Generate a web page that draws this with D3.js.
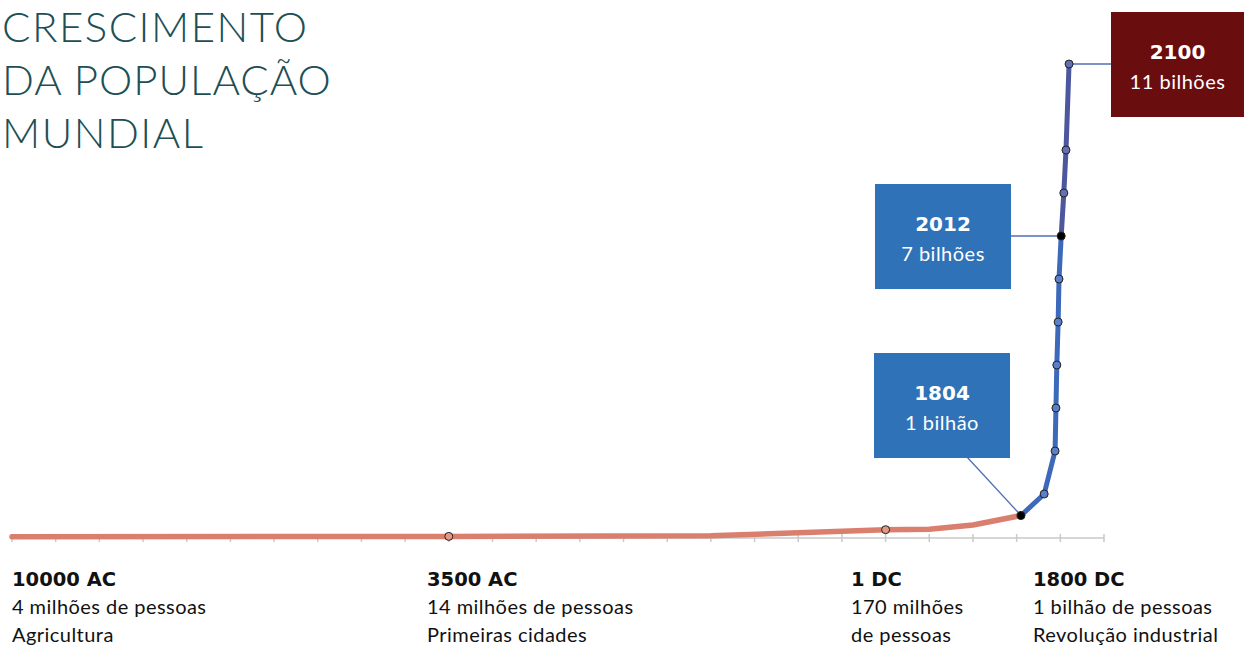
<!DOCTYPE html>
<html>
<head>
<meta charset="utf-8">
<script src="https://cdn.jsdelivr.net/npm/d3@7"></script>
<style>
  html, body { margin: 0; padding: 0; background: #fff; }
  svg { display: block; font-family: Lato, "Noto Sans", sans-serif; }
</style>
</head>
<body>
<svg id="chart"></svg>
<script>
const W = 1244;
const H = 646;

// ── Data ──────────────────────────────────────────────────────────────────────
// x = position on the category axis (tick index), y = population (bilhões)

const TICKS = d3.range(0, 26);

const ERA_X = [0, 10, 16, 20, 21, 22, 23.1];
const ERA_Y = [0.004, 0.014, 0.03, 0.17, 0.18, 0.28, 0.5];
const ERA_MARKED = [false, true, false, true, false, false, false];

const MODERN_X = [23.1, 23.63, 23.88, 23.9, 23.92, 23.95, 23.97, 24.02];
const MODERN_Y = [0.5, 1, 2, 3, 4, 5, 6, 7];

const FUTURE_X = [24.02, 24.08, 24.13, 24.2];
const FUTURE_Y = [7, 8, 9, 11];

const TITLE = ['CRESCIMENTO', 'DA POPULAÇÃO', 'MUNDIAL'];

const CALLOUT_YEAR = ['2100', '2012', '1804'];
const CALLOUT_TEXT = ['11 bilhões', '7 bilhões', '1 bilhão'];

const ERA_LABEL = ['10000 AC', '3500 AC', '1 DC', '1800 DC'];
const ERA_LINE2 = ['4 milhões de pessoas', '14 milhões de pessoas', '170 milhões', '1 bilhão de pessoas'];
const ERA_LINE3 = ['Agricultura', 'Primeiras cidades', 'de pessoas', 'Revolução industrial'];

// ── Scales ────────────────────────────────────────────────────────────────────

const x = d3.scaleLinear().domain([0, 25]).range([12, 1104]);
const y = d3.scaleLinear().domain([0, 11]).range([537, 64]);

const svg = d3.select('#chart').attr('width', W).attr('height', H);

const BOLD = '"DejaVu Sans", sans-serif';

// ── Title ─────────────────────────────────────────────────────────────────────

svg.append('g')
  .selectAll('text')
  .data(TITLE)
  .join('text')
  .attr('x', 2)
  .attr('y', (d, i) => 42 + i * 53)
  .attr('fill', '#1d4f55')
  .attr('font-size', 42)
  .attr('font-weight', 300)
  .attr('letter-spacing', (d, i) => i === 1 ? 1 : 1.5)
  .text(d => d);

// ── Axis ──────────────────────────────────────────────────────────────────────

const axisY = 538;
const axis = svg.append('g').attr('stroke', '#c9c9c9').attr('stroke-width', 1.5);
axis.append('line')
  .attr('x1', x(0)).attr('x2', x(25))
  .attr('y1', axisY).attr('y2', axisY);
axis.selectAll('.tick')
  .data(TICKS)
  .join('line')
  .attr('class', 'tick')
  .attr('x1', d => x(d)).attr('x2', d => x(d))
  .attr('y1', axisY - 4).attr('y2', axisY + 4);

// ── Lines ─────────────────────────────────────────────────────────────────────

const line = d3.line().x(d => x(d[0])).y(d => y(d[1]));

function series(xs, ys, color, width) {
  const pts = xs.map((v, i) => [v, ys[i]]);
  svg.append('path')
    .datum(pts)
    .attr('d', line)
    .attr('fill', 'none')
    .attr('stroke', color)
    .attr('stroke-width', width)
    .attr('stroke-linecap', 'round')
    .attr('stroke-linejoin', 'round');
  return pts;
}

const eraPts    = series(ERA_X, ERA_Y, '#da7e6e', 5.5);
const modernPts = series(MODERN_X, MODERN_Y, '#3c69b9', 5);
const futurePts = series(FUTURE_X, FUTURE_Y, '#4d579d', 5);

// ── Callouts (leaders first, so boxes sit on top) ─────────────────────────────

const leaders = svg.append('g').attr('stroke', '#4f6fb5').attr('stroke-width', 1.3);
leaders.append('line')
  .attr('x1', x(FUTURE_X[3])).attr('y1', y(FUTURE_Y[3]))
  .attr('x2', 1112).attr('y2', y(FUTURE_Y[3]));
leaders.append('line')
  .attr('x1', 1010).attr('y1', y(MODERN_Y[7]))
  .attr('x2', x(MODERN_X[7])).attr('y2', y(MODERN_Y[7]));
leaders.append('line')
  .attr('x1', 967).attr('y1', 457)
  .attr('x2', x(MODERN_X[0])).attr('y2', y(MODERN_Y[0]));

// ── Markers ───────────────────────────────────────────────────────────────────

function markers(pts, fill, keep) {
  svg.append('g')
    .selectAll('circle')
    .data(pts.filter((p, i) => keep(i)))
    .join('circle')
    .attr('cx', d => x(d[0]))
    .attr('cy', d => y(d[1]))
    .attr('r', 4)
    .attr('fill', fill)
    .attr('stroke', '#222')
    .attr('stroke-width', 1);
}

markers(eraPts, '#e39685', i => ERA_MARKED[i]);
markers(modernPts, '#5b7fc8', i => i > 0 && i < modernPts.length - 1);
markers(futurePts, '#6670b0', i => i > 0);
markers([modernPts[0], modernPts[modernPts.length - 1]], '#000', () => true);

// ── Callout boxes ─────────────────────────────────────────────────────────────

const BOXES = [
  { x: 1111, y: 12,  w: 133, h: 105, fill: '#6a0d0f' },
  { x: 875,  y: 184, w: 136, h: 105, fill: '#2f72b8' },
  { x: 874,  y: 353, w: 136, h: 105, fill: '#2f72b8' },
];

const boxG = svg.append('g')
  .selectAll('g')
  .data(BOXES)
  .join('g')
  .attr('transform', d => `translate(${d.x},${d.y})`);

boxG.append('rect')
  .attr('width', d => d.w).attr('height', d => d.h)
  .attr('fill', d => d.fill);

boxG.append('text')
  .attr('x', d => d.w / 2).attr('y', 47)
  .attr('text-anchor', 'middle')
  .attr('fill', '#fff')
  .attr('font-family', BOLD)
  .attr('font-size', 20)
  .attr('font-weight', 700)
  .text((d, i) => CALLOUT_YEAR[i]);

boxG.append('text')
  .attr('x', d => d.w / 2).attr('y', 77)
  .attr('text-anchor', 'middle')
  .attr('fill', '#fff')
  .attr('font-size', 20)
  .attr('font-weight', 400)
  .attr('letter-spacing', 0.5)
  .text((d, i) => CALLOUT_TEXT[i]);

// ── Era labels ────────────────────────────────────────────────────────────────

const LABEL_X = [12, 427, 851, 1033];

const labels = svg.append('g')
  .selectAll('g')
  .data(ERA_LABEL)
  .join('g')
  .attr('transform', (d, i) => `translate(${LABEL_X[i]},0)`)
  .attr('fill', '#111');

labels.append('text')
  .attr('y', 586)
  .attr('font-family', BOLD)
  .attr('font-size', 19.5)
  .attr('font-weight', 700)
  .text(d => d);

labels.append('text')
  .attr('y', 614)
  .attr('font-size', 20)
  .attr('font-weight', 400)
  .attr('letter-spacing', 0.45)
  .text((d, i) => ERA_LINE2[i]);

labels.append('text')
  .attr('y', 642)
  .attr('font-size', 20)
  .attr('font-weight', 400)
  .attr('letter-spacing', 0.45)
  .text((d, i) => ERA_LINE3[i]);
</script>
</body>
</html>
